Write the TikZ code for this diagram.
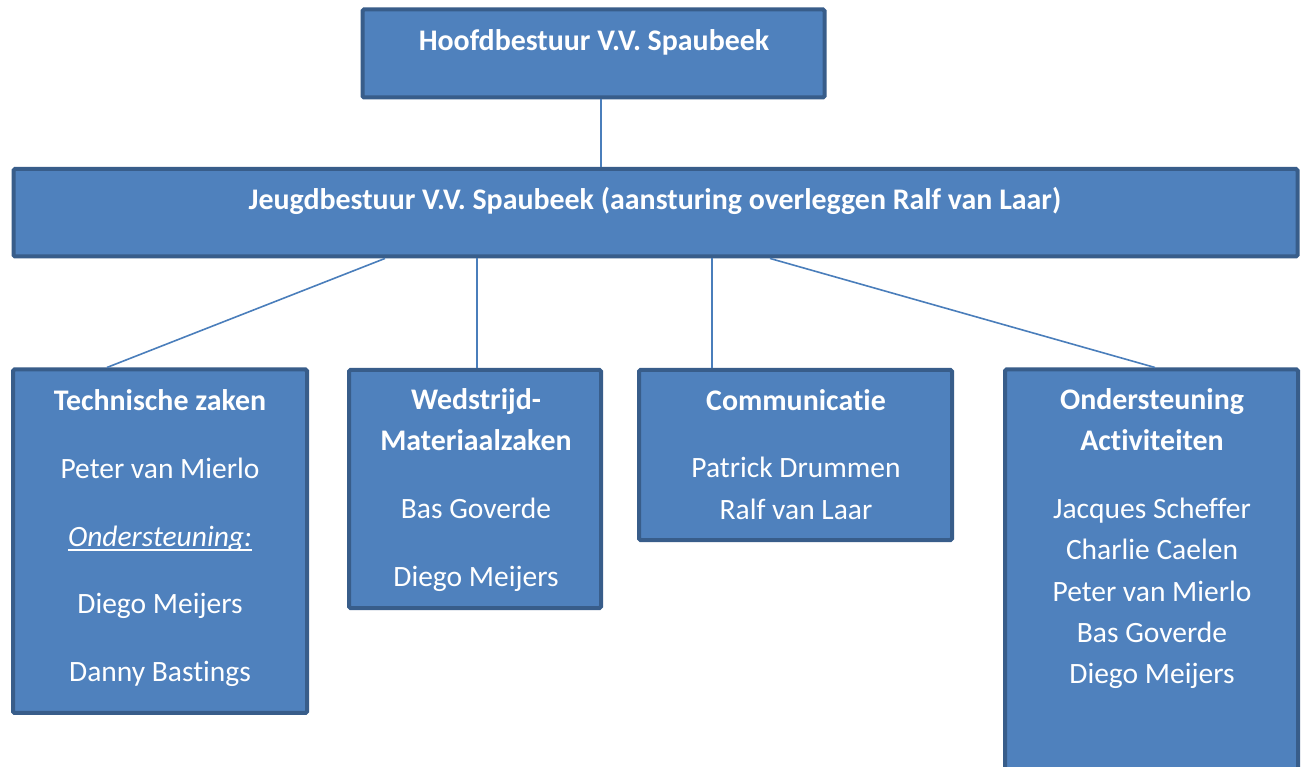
\documentclass[tikz,border=0pt]{standalone}
\usepackage{fontspec}
\setmainfont{Carlito}[Ligatures=NoCommon]
\definecolor{boxfill}{RGB}{79,129,189}
\definecolor{boxline}{RGB}{56,93,138}
\definecolor{connline}{RGB}{74,126,187}
\begin{document}
\begin{tikzpicture}[x=1pt,y=-1pt,
  box/.style={draw=boxline, fill=boxfill, line width=4pt, rounded corners=1.5pt, inner sep=0pt, rectangle},
  txt/.style={text=white, inner sep=0pt, anchor=base, font=\fontsize{29.5}{34}\selectfont},
  btxt/.style={txt, font=\fontsize{29.9}{34}\selectfont\bfseries},
  conn/.style={draw=connline, line width=1.6pt}]
\clip (0,0) rectangle (1307,767);
\fill[white] (0,0) rectangle (1307,767);
% boxes
\node[box, minimum width=462pt, minimum height=88pt] (hoofd) at (593.5,53.5) {};
\node[box, minimum width=1284pt, minimum height=87.5pt] (jeugd) at (655.5,212.7) {};
\node[box, minimum width=294pt, minimum height=343.5pt] (tech) at (160,541.2) {};
\node[box, minimum width=252pt, minimum height=238pt] (wed) at (475,489) {};
\node[box, minimum width=313pt, minimum height=170pt] (comm) at (795.5,455) {};
\node[box, minimum width=293pt, minimum height=450pt] (ond) at (1151.5,594.5) {};
% connectors
\draw[conn] ([xshift=7.5pt]hoofd.south) -- ([xshift=7.5pt]jeugd.north -| hoofd.south);
\draw[conn] ([xshift=-270.5pt]jeugd.south) -- ([xshift=-53pt]tech.north);
\draw[conn] ([xshift=-178.5pt]jeugd.south) -- ([xshift=2pt]wed.north);
\draw[conn] ([xshift=56.5pt]jeugd.south) -- ([xshift=-83.5pt]comm.north);
\draw[conn] ([xshift=114.5pt]jeugd.south) -- ([xshift=3.5pt]ond.north);
% texts
\node[btxt] (t0) at (594,51) {Hoofdbestuur V.V. Spaubeek};
\node[btxt] (t1) at (655,210) {Jeugdbestuur V.V. Spaubeek (aansturing overleggen Ralf van Laar)};
\node[btxt] (ta) at (160,410) {Technische zaken};
\node[txt] (tb) at (160,478) {Peter van Mierlo};
\node[txt] (tc) at (160,546) {\itshape Ondersteuning:};
\draw[white, line width=1.2pt] ([yshift=-4pt]tc.base west) -- ([yshift=-4pt]tc.base east);
\node[txt] (td) at (160,613) {Diego Meijers};
\node[txt] (te) at (160,681) {Danny Bastings};
\node[btxt] (wa) at (476,409) {Wedstrijd-};
\node[btxt] (wb) at (476,450) {Materiaalzaken};
\node[txt] (wc) at (476,518) {Bas Goverde};
\node[txt] (wd) at (476,586) {Diego Meijers};
\node[btxt] (ca) at (796,410) {Communicatie};
\node[txt] (cb) at (796,477) {Patrick Drummen};
\node[txt] (cc) at (796,519) {Ralf van Laar};
\node[btxt] (oa) at (1152,409) {Ondersteuning};
\node[btxt] (ob) at (1152,450) {Activiteiten};
\node[txt] (oc) at (1152,518) {Jacques Scheffer};
\node[txt] (od) at (1152,559) {Charlie Caelen};
\node[txt] (oe) at (1152,601) {Peter van Mierlo};
\node[txt] (of) at (1152,642) {Bas Goverde};
\node[txt] (og) at (1152,683) {Diego Meijers};
\end{tikzpicture}
\end{document}
